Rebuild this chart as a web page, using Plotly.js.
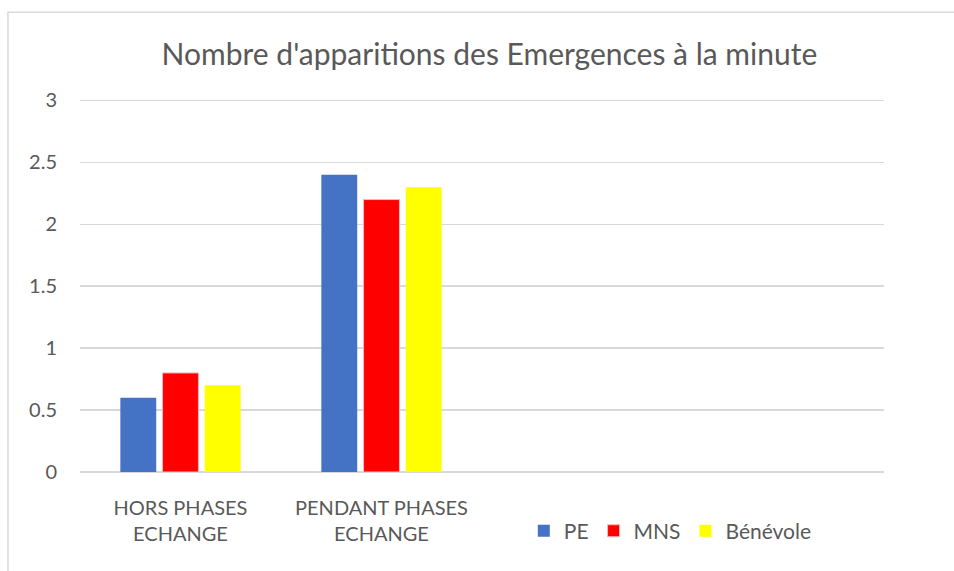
<!DOCTYPE html>
<html>
<head>
<meta charset="utf-8">
<script src="https://cdn.plot.ly/plotly-3.0.1.min.js"></script>
<style>html,body{margin:0;padding:0;background:#fff;}#chart{width:954px;height:571px;}</style>
</head>
<body>
<div id="chart"></div>
<script>
const categories = ["HORS PHASES<br>ECHANGE", "PENDANT PHASES<br>ECHANGE", " ", "  "];
const seriesNames = ["PE", "MNS", "Bénévole"];
const pe = [0.6, 2.4, null, null];
const mns = [0.8, 2.2, null, null];
const benevole = [0.7, 2.3, null, null];
const colors = ["#4472C4", "#FF0000", "#FFFF00"];
const yTicks = [0, 0.5, 1, 1.5, 2, 2.5, 3];

const font = "Lato, 'Open Sans', sans-serif";
const values = [pe, mns, benevole];
const traces = values.map((v, i) => ({
  type: "bar",
  name: seriesNames[i],
  x: categories,
  y: v,
  marker: {color: colors[i], line: {color: i === 1 ? "#ffb3b3" : colors[i], width: i === 1 ? 1 : 0}},
  hoverinfo: "none"
}));

const layout = {
  width: 954, height: 571,
  margin: {l: 80, r: 70, t: 97.5, b: 99},
  paper_bgcolor: "#ffffff", plot_bgcolor: "#ffffff",
  font: {family: font, color: "#595959", size: 20},
  title: {text: "Nombre d'apparitions des Emergences à la minute", x: 0.513, xanchor: "center", y: 0.905, yanchor: "middle",
          font: {family: font, size: 30, color: "#595959"}},
  barmode: "group",
  bargap: 0.37,
  bargroupgap: 0.15,
  xaxis: {type: "category", categoryorder: "array", categoryarray: categories, range: [-0.5, 3.5],
          showgrid: false, zeroline: false, showline: false, ticks: "", ticklabelstandoff: 22,
          tickfont: {size: 20, color: "#595959"}},
  yaxis: {range: [0, 3.02], tickvals: yTicks, ticktext: yTicks.map(String), showgrid: true, gridcolor: "#d9d9d9", gridwidth: 1.5,
          zeroline: true, zerolinecolor: "#d9d9d9", zerolinewidth: 1.5, showline: false, ticks: "",
          ticklabelstandoff: 22, tickfont: {size: 20, color: "#595959"}},
  legend: {orientation: "h", x: 0.552, xanchor: "left", y: -0.158, yanchor: "middle",
           font: {size: 21, color: "#595959"}, itemwidth: 30, traceorder: "normal"},
  shapes: [{type: "rect", xref: "paper", yref: "paper", x0: -0.0896, x1: 1.3, y0: -0.5, y1: 1.229,
            line: {color: "#d9d9d9", width: 1.5}, fillcolor: "rgba(0,0,0,0)", layer: "below"}],
  showlegend: true
};

Plotly.newPlot("chart", traces, layout, {staticPlot: true, displayModeBar: false});
</script>
</body>
</html>
